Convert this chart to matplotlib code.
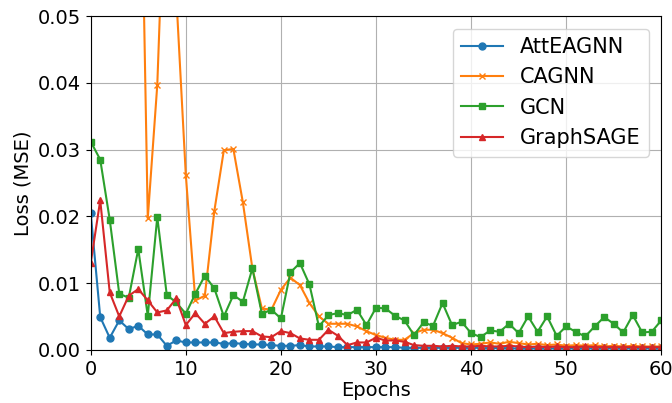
import matplotlib
matplotlib.use("Agg")
import matplotlib.pyplot as plt

epochs = list(range(61))

att_eagnn = [0.0205, 0.0049, 0.0018, 0.0044, 0.0031, 0.0036, 0.0023, 0.0023, 0.0006, 0.0014,
             0.0011, 0.0011, 0.0011, 0.0011, 0.0009, 0.0010, 0.0009, 0.0008, 0.0008, 0.0007,
             0.0006, 0.0006, 0.0007, 0.0005, 0.0005, 0.0005, 0.0004, 0.0004, 0.0004, 0.0004,
             0.0004, 0.0004, 0.0004, 0.0003, 0.0003, 0.0003, 0.0003, 0.0003, 0.0003, 0.0003,
             0.0003, 0.0003, 0.0002, 0.0003, 0.0002, 0.0002, 0.0002, 0.0002, 0.0002, 0.0002,
             0.0002, 0.0002, 0.0002, 0.0002, 0.0002, 0.0002, 0.0002, 0.0002, 0.0002, 0.0002,
             0.0002]

cagnn = [0.35, 0.26, 0.20, 0.16, 0.13, 0.098, 0.0197, 0.0397, 0.079, 0.053,
         0.0262, 0.0074, 0.0081, 0.0208, 0.0299, 0.0301, 0.0221, 0.0122, 0.0062, 0.0060,
         0.0090, 0.0108, 0.0097, 0.0070, 0.0050, 0.0039, 0.0039, 0.0039, 0.0035, 0.0028,
         0.0022, 0.0018, 0.0015, 0.0015, 0.0025, 0.0030, 0.0030, 0.0025, 0.0018, 0.0010,
         0.0008, 0.0009, 0.0011, 0.0009, 0.0012, 0.0010, 0.0008, 0.0009, 0.0007, 0.0008,
         0.0006, 0.0007, 0.0006, 0.0007, 0.0005, 0.0006, 0.0005, 0.0006, 0.0005, 0.0005,
         0.0005]

gcn = [0.0312, 0.0285, 0.0195, 0.0084, 0.0078, 0.0151, 0.0051, 0.0199, 0.0082, 0.0071,
       0.0054, 0.0084, 0.0111, 0.0092, 0.0050, 0.0082, 0.0072, 0.0122, 0.0054, 0.0060,
       0.0047, 0.0116, 0.0130, 0.0098, 0.0035, 0.0052, 0.0055, 0.0052, 0.0060, 0.0037,
       0.0063, 0.0062, 0.0051, 0.0044, 0.0022, 0.0041, 0.0036, 0.0070, 0.0037, 0.0042,
       0.0025, 0.0019, 0.0029, 0.0027, 0.0039, 0.0025, 0.0050, 0.0027, 0.0050, 0.0021,
       0.0035, 0.0027, 0.0020, 0.0035, 0.0049, 0.0039, 0.0026, 0.0052, 0.0026, 0.0027,
       0.0044]

graphsage = [0.0130, 0.0224, 0.0086, 0.0050, 0.0081, 0.0091, 0.0074, 0.0056, 0.0059, 0.0077,
             0.0037, 0.0055, 0.0039, 0.0050, 0.0025, 0.0027, 0.0028, 0.0028, 0.0020, 0.0019,
             0.0028, 0.0025, 0.0017, 0.0015, 0.0015, 0.0030, 0.0021, 0.0007, 0.0011, 0.0011,
             0.0018, 0.0014, 0.0014, 0.0012, 0.0007, 0.0006, 0.0006, 0.0005, 0.0006, 0.0005,
             0.0005, 0.0006, 0.0005, 0.0005, 0.0006, 0.0005, 0.0004, 0.0005, 0.0004, 0.0005,
             0.0004, 0.0004, 0.0005, 0.0004, 0.0004, 0.0004, 0.0004, 0.0004, 0.0004, 0.0004,
             0.0004]

fig = plt.figure(figsize=(6.72, 4.03), dpi=100)
ax = fig.add_axes([0.135, 0.132, 0.849, 0.828])

ax.plot(epochs, att_eagnn, marker="o", markersize=5, label="AttEAGNN")
ax.plot(epochs, cagnn, marker="x", markersize=5, label="CAGNN")
ax.plot(epochs, gcn, marker="s", markersize=5, label="GCN")
ax.plot(epochs, graphsage, marker="^", markersize=5, label="GraphSAGE")

ax.set_xlim(0, 60)
ax.set_ylim(0, 0.05)
ax.set_xlabel("Epochs", fontsize=14, labelpad=2)
ax.set_ylabel("Loss (MSE)", fontsize=14)
ax.tick_params(labelsize=14)
ax.grid(True)
ax.legend(loc="upper right", fontsize=15, borderaxespad=0.6)

fig.savefig("out.png", dpi=100)
